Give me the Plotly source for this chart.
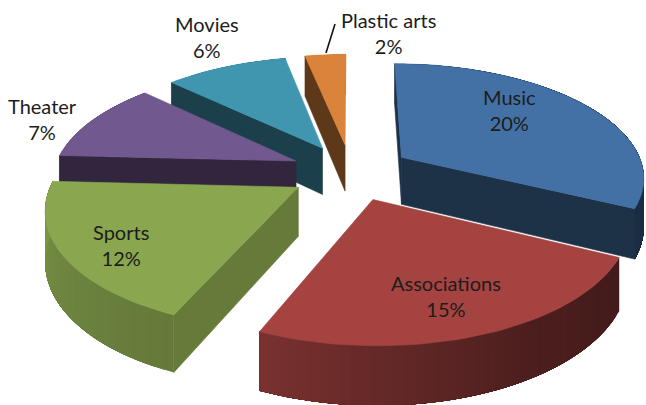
import numpy as np
import plotly.graph_objects as go

# Chart data
categories = ["Music", "Associations", "Sports", "Theater", "Movies", "Plastic arts"]
shares = [20, 15, 12, 7, 6, 2]

# Slice colours: top face
top_colors = ["#4371A6", "#A54341", "#8AA64F", "#71588F", "#4096AE", "#D9833B"]

# Label centres and drawing order (back to front)
label_anchors = {
    "Music": (509, 110), "Associations": (446, 296), "Sports": (121, 245),
    "Theater": (42, 119), "Movies": (207, 37), "Plastic arts": (388, 33),
}
draw_order = ["Plastic arts", "Movies", "Theater", "Sports", "Music", "Associations"]

# Projection of the tilted pie
CX, CY, RX, RY = 351, 172, 243, 113
PERSPECTIVE, EXPLODE, DEPTH = 0.16, 0.25, 48
RADIAL_SHADE = 0.43


def project(gx, gy, drop=0.0):
    s = 1 / (1 - PERSPECTIVE * gy)
    return CX + RX * gx * s, CY + (RY * gy + drop) * s


def ground(theta, off, r=1.0):
    t = np.radians(theta)
    return off[0] + r * np.sin(t), off[1] - r * np.cos(t)


def shade(hex_color, f):
    rgb = [int(hex_color[i:i + 2], 16) for i in (1, 3, 5)]
    return "rgb({},{},{})".format(*[int(round(c * f)) for c in rgb])


def wall_factor(theta):
    # outer rim gets lighter towards the left of the pie
    return np.interp(theta, [100, 116, 150, 203, 240, 273],
                     [0.40, 0.40, 0.46, 0.73, 0.80, 0.92])


def polygon(fig, xs, ys, color, edge=0.6):
    fig.add_trace(go.Scatter(x=list(xs) + [xs[0]], y=list(ys) + [ys[0]], mode="lines",
                             fill="toself", fillcolor=color,
                             line=dict(color=color, width=edge),
                             hoverinfo="skip", showlegend=False))


def radial_face(fig, theta, off, color, f):
    edge = ground(theta, off)
    corners = [project(*off), project(*edge), project(*edge, DEPTH), project(*off, DEPTH)]
    polygon(fig, [c[0] for c in corners], [c[1] for c in corners], shade(color, f))


fig = go.Figure()
total = sum(shares)
spans = {}
start = 0.0
for name, value in zip(categories, shares):
    sweep = 360 * value / total
    spans[name] = (start, start + sweep)
    start += sweep

for name in draw_order:
    a0, a1 = spans[name]
    color = top_colors[categories.index(name)]
    mid = np.radians((a0 + a1) / 2)
    off = (EXPLODE * np.sin(mid), -EXPLODE * np.cos(mid))
    thetas = np.linspace(a0, a1, max(int((a1 - a0) / 2), 4) + 1)
    f_cut = 0.74 if name == "Sports" else RADIAL_SHADE

    # cut faces are in front of the rim only when they turn towards the viewer
    front = []
    if np.sin(np.radians(a1)) > 0.01:
        front.append(a1)
    if -np.sin(np.radians(a0)) > -0.01:
        front.append(a0)

    # outer rim: each band runs on to the end of the slice, so later bands
    # paint over it and no seams appear between steps
    for t0 in thetas[:-1]:
        band = np.linspace(t0, a1, 40)
        upper = [project(*ground(t, off)) for t in band]
        lower = [project(*ground(t, off), DEPTH) for t in band[::-1]]
        pts = upper + lower
        polygon(fig, [p[0] for p in pts], [p[1] for p in pts],
                shade(color, wall_factor(t0 + 1)), edge=0)

    for theta in front:
        radial_face(fig, theta, off, color, f_cut)

    # top face
    arc = [project(*ground(t, off)) for t in thetas]
    pts = [project(*off)] + arc
    polygon(fig, [p[0] for p in pts], [p[1] for p in pts], color)

# Leader line for the smallest slice
fig.add_trace(go.Scatter(x=[335, 326], y=[24, 53], mode="lines",
                         line=dict(color="#111111", width=1.6),
                         hoverinfo="skip", showlegend=False))

for name, value in zip(categories, shares):
    x, y = label_anchors[name]
    fig.add_annotation(x=x, y=y, xref="x", yref="y", text=f"{name}<br>{value}%",
                       showarrow=False, align="center",
                       font=dict(family="Lato", size=20, color="#1c1c1c"))

fig.update_layout(
    width=646, height=405, margin=dict(l=0, r=0, t=0, b=0),
    paper_bgcolor="white", plot_bgcolor="white", showlegend=False,
    xaxis=dict(range=[0, 646], visible=False, fixedrange=True),
    yaxis=dict(range=[405, 0], visible=False, fixedrange=True),
)
fig.write_html("out.html", config={"displayModeBar": False})
